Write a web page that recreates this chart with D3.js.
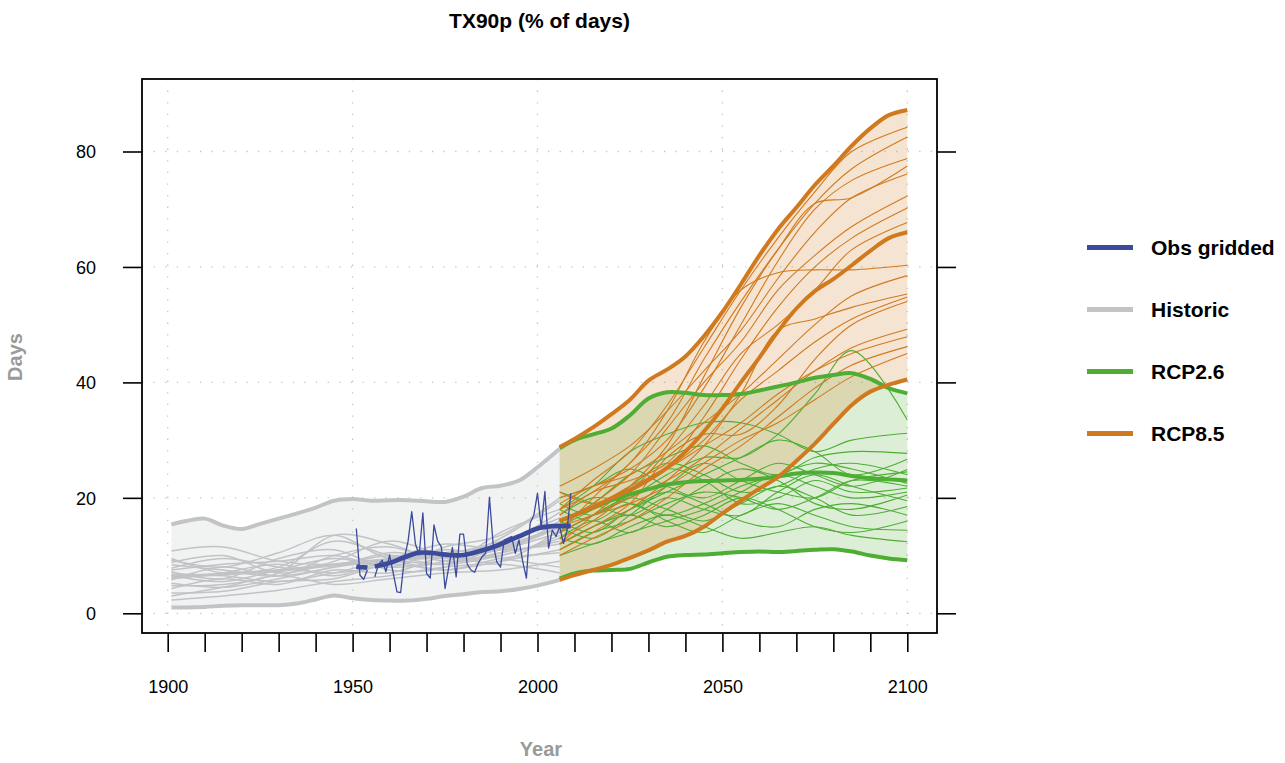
<!DOCTYPE html>
<html>
<head>
<meta charset="utf-8">
<script src="https://cdn.jsdelivr.net/npm/d3@7"></script>
<style>
  html, body { margin: 0; padding: 0; background: #fff; }
  svg { display: block; font-family: "Liberation Sans", Arial, Helvetica, sans-serif; }
</style>
</head>
<body>
<svg id="chart" width="1285" height="763"></svg>
<script>
// ---------------- DATA ----------------
const title = "TX90p (% of days)";
const xLabel = "Year";
const yLabel = "Days";
const xTicks = d3.range(1900, 2101, 10);
const xTickLabels = [1900, 1950, 2000, 2050, 2100];
const yTicks = [0, 20, 40, 60, 80];
const legendLabels = ["Obs gridded", "Historic", "RCP2.6", "RCP8.5"];

// Historic envelope
const histBoundYears = [1901,1905,1910,1915,1920,1925,1930,1935,1940,1945,1950,1955,1960,1965,1970,1975,1980,1985,1990,1995,2000,2006];
const histUpper = [15.4,16.0,16.4,15.2,14.6,15.5,16.4,17.3,18.3,19.5,19.8,19.5,19.6,19.6,19.4,19.3,20.2,21.7,22.1,23.0,25.3,28.5];
const histLower = [1.0,1.0,1.1,1.3,1.4,1.4,1.4,1.7,2.4,3.1,2.6,2.3,2.2,2.2,2.5,3.0,3.3,3.7,3.8,4.2,4.8,5.8];

// Historic members
const histYears = [1901,1915,1930,1945,1960,1975,1990,2006];
const histMedian = [6.3,6.8,7.4,8.4,9.3,9.8,11.2,15.0];
const hist01 = [10.8,11.5,9.0,8.5,10.0,9.5,11.0,14.0];
const hist02 = [9.2,8.0,10.5,13.5,9.5,10.5,12.0,17.5];
const hist03 = [8.4,7.5,6.5,10.0,11.5,9.0,10.5,12.5];
const hist04 = [7.8,9.5,8.0,7.0,8.5,11.0,9.5,8.0];
const hist05 = [6.6,5.5,7.5,9.5,8.0,9.0,13.0,19.5];
const hist06 = [6.0,7.0,8.5,6.5,9.0,8.5,11.5,15.0];
const hist07 = [5.2,4.5,6.0,8.0,10.5,9.5,10.0,13.5];
const hist08 = [4.3,6.0,5.0,7.5,7.0,10.0,12.5,16.5];
const hist09 = [3.5,3.8,5.5,6.0,8.5,7.5,9.0,11.0];
const hist10 = [2.3,3.0,4.0,5.5,6.5,8.0,8.5,7.0];
const hist11 = [8.8,10.0,7.0,9.0,12.5,10.0,9.0,14.5];
const hist12 = [7.2,6.0,9.5,11.0,7.5,8.0,14.0,18.0];
const hist13 = [5.8,8.0,6.5,8.0,9.5,12.0,11.0,12.0];
const hist14 = [4.8,5.0,7.0,13.5,12.0,9.0,10.5,16.0];
const hist15 = [6.8,6.5,5.5,7.0,9.0,7.5,9.5,10.5];
const hist16 = [7.5,8.5,9.0,10.0,8.0,11.5,13.5,20.0];
const hist17 = [3.0,4.5,6.5,5.0,6.0,7.0,7.5,9.0];
const hist18 = [9.5,7.0,8.0,12.5,10.0,8.5,10.0,13.0];

// Observations (annual), gap in 1955
const obsYears = d3.range(1951, 2010);
const obsValues = [14.7,6.6,5.9,7.5,null,6.3,8.4,9.2,7.2,10.1,
                   6.9,3.7,3.6,9.5,12.5,17.6,12.0,10.1,17.4,6.9,
                   6.1,15.3,12.5,11.5,4.3,8.0,11.4,6.3,13.7,13.7,
                   8.5,7.5,7.1,8.7,9.8,10.4,20.1,12.0,8.9,8.0,
                   12.7,13.0,13.3,10.4,12.7,9.0,6.1,15.6,17.0,20.8,
                   14.9,21.1,11.3,14.4,13.3,15.0,12.1,14.4,20.8];
const obsSmoothYears = [1951,1952,1953,1954,1955,1956,1960,1964,1968,1972,1976,1980,1984,1988,1992,1996,2000,2004,2009];
const obsSmooth = [8.1,8.0,8.0,7.9,null,8.1,8.7,9.7,10.5,10.4,10.1,10.1,10.7,11.5,12.5,13.6,14.7,15.1,15.1];

// Future envelopes
const futBoundYears = [2006,2010,2015,2020,2025,2030,2035,2040,2045,2050,2055,2060,2065,2070,2075,2080,2085,2090,2095,2100];
const rcp85Upper  = [28.8,30.2,32.2,34.5,37.0,40.3,42.2,44.5,48.0,52.2,57.0,62.0,66.5,70.3,74.2,77.5,81.0,84.0,86.3,87.2];
const rcp85Median = [16.0,17.0,18.4,19.9,21.4,23.1,25.2,28.0,31.5,35.5,40.0,44.3,48.8,52.8,55.8,57.9,60.3,62.8,65.0,66.0];
const rcp85Lower  = [5.8,6.6,7.5,8.4,9.6,10.9,12.4,13.4,15.0,17.3,19.5,21.6,23.6,26.4,29.4,32.8,36.1,38.4,39.6,40.5];
const rcp26Upper  = [28.6,30.0,31.0,32.0,34.3,37.2,38.3,38.2,37.8,37.8,38.0,38.6,39.3,40.0,40.8,41.3,41.6,40.6,39.0,38.1];
const rcp26Median = [16.0,17.0,18.3,19.6,20.6,21.5,22.3,22.7,22.9,23.0,23.1,23.3,23.7,24.2,24.4,24.3,23.8,23.4,23.2,23.0];
const rcp26Lower  = [6.0,6.9,7.4,7.5,7.7,8.8,9.8,10.1,10.2,10.4,10.6,10.7,10.6,10.8,11.0,11.1,10.7,10.0,9.5,9.2];

// Future members
const futYears = [2006,2015,2025,2035,2045,2055,2065,2075,2085,2100];
const rcp26_01 = [14,17,20,24,27,27,31,38,45.5,33.5];
const rcp26_02 = [18,22,28,31,33,33,31,28,30,31.2];
const rcp26_03 = [16,19,24,27,29,26,24,27,28,27.7];
const rcp26_04 = [12,15,18,21,24,27,30,28,24,26.7];
const rcp26_05 = [20,22,25,22,20,23,26,24,22,24.9];
const rcp26_06 = [15,13,17,22,26,23,21,20,23,24.5];
const rcp26_07 = [17,20,19,17,19,22,24,26,25,22.5];
const rcp26_08 = [11,14,16,19,21,20,18,20,23,22.0];
const rcp26_09 = [19,17,21,25,23,19,20,23,21,21.7];
const rcp26_10 = [13,16,14,18,22,25,23,19,18,20.5];
const rcp26_11 = [21,19,17,20,18,17,21,24,22,19.5];
const rcp26_12 = [14,17,20,18,16,19,22,20,17,18.5];
const rcp26_13 = [16,14,18,21,19,16,15,18,19,17.0];
const rcp26_14 = [12,15,17,15,17,20,18,15,14,16.0];
const rcp26_15 = [18,16,19,16,14,17,19,17,15,14.4];
const rcp26_16 = [13,12,15,17,15,13,14,15,13.5,12.4];
const rcp26_17 = [10,12,14,16,18,21,24,22,20,21.0];
const rcp26_18 = [15,18,22,26,24,21,22,25,26,24.0];

const rcp85_01 = [18,23,28,36,46,56,65,73,80,84.2];
const rcp85_02 = [14,20,26,33,44,54,63,71,77,82.5];
const rcp85_03 = [20,22,25,30,39,50,61,70,75,78.8];
const rcp85_04 = [12,17,22,29,41,53,63,71,72,77.5];
const rcp85_05 = [22,25,29,35,42,49,58,66,72,76.1];
const rcp85_06 = [15,19,24,32,40,47,56,62,67,72.3];
const rcp85_07 = [17,21,23,26,34,44,53,60,65,70.2];
const rcp85_08 = [13,16,21,28,36,45,50,56,63,67.7];
const rcp85_09 = [19,22,24,28,33,38,44,50,55,58.5];
const rcp85_10 = [11,14,18,23,29,38,49,51,53,55.3];
const rcp85_11 = [16,18,21,25,30,37,42,47,51,54.8];
const rcp85_12 = [14,17,20,23,27,32,37,42,46,49.2];
const rcp85_13 = [21,19,22,25,29,33,38,42,45,47.9];
const rcp85_14 = [10,13,16,20,25,29,34,39,43,46.2];
const rcp85_15 = [15,17,19,22,26,30,33,37,41,45.0];
const rcp85_16 = [18,21,26,35,47,56,59,59.5,59.5,60.3];
const rcp85_17 = [12,15,19,27,31,31,36,44,50,54.0];

const histMembers = [hist01,hist02,hist03,hist04,hist05,hist06,hist07,hist08,hist09,hist10,hist11,hist12,hist13,hist14,hist15,hist16,hist17,hist18];
const rcp26Members = [rcp26_01,rcp26_02,rcp26_03,rcp26_04,rcp26_05,rcp26_06,rcp26_07,rcp26_08,rcp26_09,rcp26_10,rcp26_11,rcp26_12,rcp26_13,rcp26_14,rcp26_15,rcp26_16,rcp26_17,rcp26_18];
const rcp85Members = [rcp85_01,rcp85_02,rcp85_03,rcp85_04,rcp85_05,rcp85_06,rcp85_07,rcp85_08,rcp85_09,rcp85_10,rcp85_11,rcp85_12,rcp85_13,rcp85_14,rcp85_15,rcp85_16,rcp85_17];

// ---------------- STYLE ----------------
const C = {
  blue: "#3c4a9c",
  grey: "#c1c3c6",
  green: "#4eae34",
  orange: "#d07a1f",
  greyFill: "rgba(193,195,198,0.22)",
  greenFill: "rgba(78,174,52,0.2)",
  orangeFill: "rgba(208,122,31,0.2)",
  grid: "#c4c4c4",
  axisTitle: "#9a9a9a"
};
const box = { left: 142, right: 937, top: 79, bottom: 633 };

const svg = d3.select("#chart");
const x = d3.scaleLinear().domain([1900, 2100]).range([167.7, 907.3]);
const y = d3.scaleLinear().domain([0, 80]).range([613.3, 151.5]);

const zip = (xs, ys) => xs.map((v, i) => [v, ys[i]]);
const curve = d3.curveCatmullRom.alpha(0.5);
const line = d3.line().defined(d => d[1] != null).x(d => x(d[0])).y(d => y(d[1])).curve(curve);
const lineLin = d3.line().defined(d => d[1] != null).x(d => x(d[0])).y(d => y(d[1]));
const band = (xs, lo, hi) => d3.area().x(d => x(d[0])).y0(d => y(d[1])).y1(d => y(d[2])).curve(curve)(xs.map((v, i) => [v, lo[i], hi[i]]));

svg.append("defs").append("clipPath").attr("id", "clip")
  .append("rect").attr("x", box.left).attr("y", box.top)
  .attr("width", box.right - box.left).attr("height", box.bottom - box.top);

// Grid
const grid = svg.append("g").attr("stroke", C.grid).attr("stroke-width", 1.3)
  .attr("stroke-dasharray", "1.3,10.3").attr("fill", "none");
xTickLabels.forEach(v => grid.append("line").attr("x1", x(v)).attr("x2", x(v)).attr("y1", box.top).attr("y2", box.bottom));
yTicks.forEach(v => grid.append("line").attr("x1", box.left).attr("x2", box.right).attr("y1", y(v)).attr("y2", y(v)));

const plot = svg.append("g").attr("clip-path", "url(#clip)");

// Fills
plot.append("path").attr("d", band(histBoundYears, histLower, histUpper)).attr("fill", C.greyFill);
plot.append("path").attr("d", band(futBoundYears, rcp26Lower, rcp26Upper)).attr("fill", C.greenFill);
plot.append("path").attr("d", band(futBoundYears, rcp85Lower, rcp85Upper)).attr("fill", C.orangeFill);

// Thin members
histMembers.forEach(m => plot.append("path").attr("d", line(zip(histYears, m)))
  .attr("fill", "none").attr("stroke", C.grey).attr("stroke-width", 1.5));
rcp26Members.forEach(m => plot.append("path").attr("d", line(zip(futYears, m)))
  .attr("fill", "none").attr("stroke", C.green).attr("stroke-width", 1.1));
rcp85Members.forEach(m => plot.append("path").attr("d", line(zip(futYears, m)))
  .attr("fill", "none").attr("stroke", C.orange).attr("stroke-width", 1.1));

// Thick lines
const thick = (d, col, w) => plot.append("path").attr("d", d).attr("fill", "none")
  .attr("stroke", col).attr("stroke-width", w).attr("stroke-linejoin", "round");
thick(line(zip(histBoundYears, histUpper)), C.grey, 4);
thick(line(zip(histBoundYears, histLower)), C.grey, 4);
thick(line(zip(histYears, histMedian)), C.grey, 3.2);
thick(line(zip(futBoundYears, rcp26Upper)), C.green, 4);
thick(line(zip(futBoundYears, rcp26Median)), C.green, 4);
thick(line(zip(futBoundYears, rcp26Lower)), C.green, 4);
thick(line(zip(futBoundYears, rcp85Upper)), C.orange, 4);
thick(line(zip(futBoundYears, rcp85Median)), C.orange, 4);
thick(line(zip(futBoundYears, rcp85Lower)), C.orange, 4);

// Observations
plot.append("path").attr("d", lineLin(zip(obsYears, obsValues))).attr("fill", "none")
  .attr("stroke", C.blue).attr("stroke-width", 1.3).attr("stroke-linejoin", "round");
thick(line(zip(obsSmoothYears, obsSmooth)), C.blue, 4.7);

// Box
svg.append("rect").attr("x", box.left).attr("y", box.top)
  .attr("width", box.right - box.left).attr("height", box.bottom - box.top)
  .attr("fill", "none").attr("stroke", "#000").attr("stroke-width", 1.8);

// Axes
const xAxis = svg.append("g").attr("transform", `translate(0,${box.bottom})`)
  .call(d3.axisBottom(x).tickValues(xTicks).tickSize(19)
    .tickFormat(d => xTickLabels.includes(d) ? String(d) : ""));
xAxis.select(".domain").remove();
xAxis.selectAll(".tick line").attr("stroke", "#000").attr("stroke-width", 1.6);
xAxis.selectAll(".tick text").attr("y", 60).attr("dy", 0)
  .attr("font-size", 18).attr("font-family", "Liberation Sans, Arial, sans-serif").attr("fill", "#000");

const yAxis = svg.append("g").attr("transform", `translate(${box.left},0)`)
  .call(d3.axisLeft(y).tickValues(yTicks).tickSize(19));
yAxis.select(".domain").remove();
yAxis.selectAll(".tick line").attr("stroke", "#000").attr("stroke-width", 1.6);
yAxis.selectAll(".tick text").attr("x", -46).attr("dy", "0.35em")
  .attr("font-size", 18).attr("font-family", "Liberation Sans, Arial, sans-serif").attr("fill", "#000");

const yAxisR = svg.append("g").attr("transform", `translate(${box.right},0)`)
  .call(d3.axisRight(y).tickValues(yTicks).tickSize(19).tickFormat(""));
yAxisR.select(".domain").remove();
yAxisR.selectAll(".tick line").attr("stroke", "#000").attr("stroke-width", 1.6);

// Titles
svg.append("text").attr("x", 539.5).attr("y", 28).attr("text-anchor", "middle")
  .attr("font-size", 21).attr("font-weight", "bold").attr("fill", "#000").text(title);
svg.append("text").attr("x", 541).attr("y", 756).attr("text-anchor", "middle")
  .attr("font-size", 20).attr("font-weight", "bold").attr("fill", C.axisTitle).text(xLabel);
svg.append("text").attr("transform", "translate(15,357) rotate(-90)").attr("text-anchor", "middle")
  .attr("dominant-baseline", "central")
  .attr("font-size", 20).attr("font-weight", "bold").attr("fill", C.axisTitle).text(yLabel);

// Legend
const legendColors = [C.blue, C.grey, C.green, C.orange];
const legend = svg.append("g");
legendLabels.forEach((lab, i) => {
  const ly = 247.5 + i * 62;
  legend.append("line").attr("x1", 1087).attr("x2", 1133).attr("y1", ly).attr("y2", ly)
    .attr("stroke", legendColors[i]).attr("stroke-width", 5);
  legend.append("text").attr("x", 1151).attr("y", ly).attr("dy", "0.36em")
    .attr("font-size", 21).attr("font-weight", "bold").attr("fill", "#000").text(lab);
});
</script>
</body>
</html>
